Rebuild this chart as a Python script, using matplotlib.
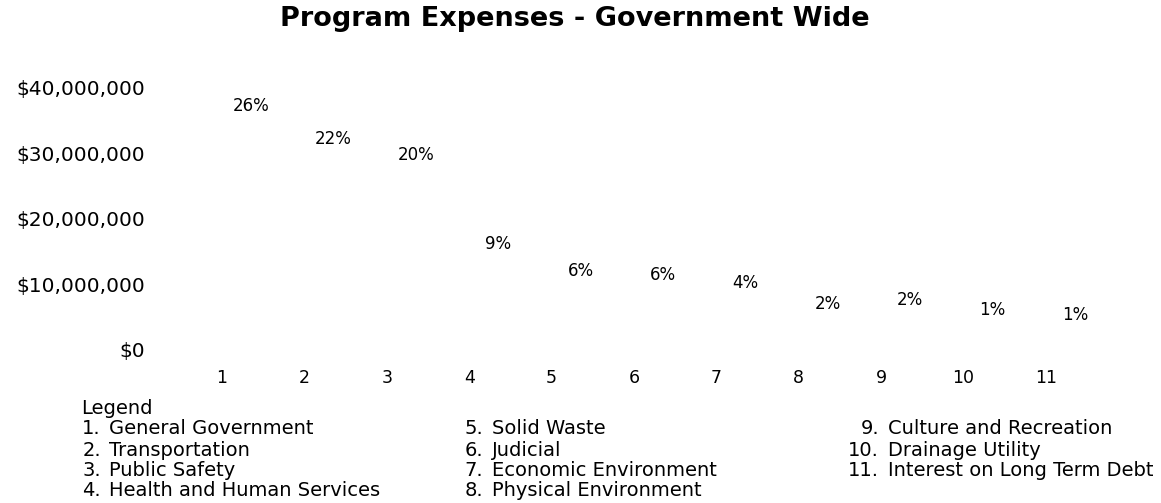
import numpy as np
import matplotlib.pyplot as plt
from matplotlib.ticker import FuncFormatter

plt.rcParams['font.family'] = ['DejaVu Sans']

# program expenses by function
programs = ['General Government', 'Transportation', 'Public Safety',
            'Health and Human Services', 'Solid Waste', 'Judicial',
            'Economic Environment', 'Physical Environment',
            'Culture and Recreation', 'Drainage Utility',
            'Interest on Long Term Debt']
expenses = [33.1e6, 28.1e6, 25.6e6, 12.1e6, 7.9e6, 7.3e6,
            6.1e6, 2.9e6, 3.5e6, 2.0e6, 1.2e6]
pct_labels = ['26%', '22%', '20%', '9%', '6%', '6%', '4%', '2%', '2%', '1%', '1%']
yticks = [0, 10e6, 20e6, 30e6, 40e6]

x = np.arange(1, len(programs) + 1)

fig = plt.figure(figsize=(11.61, 5.03), dpi=100)
ax = fig.add_axes([0.1557, 0.3042, 0.7807, 0.5209])

# columns are white in the original, only the labels show
bars = ax.bar(x, expenses, width=0.6, color='white')
for xi, v, lab in zip(x, expenses, pct_labels):
    ax.annotate(lab, (xi, v), xytext=(21, 13), textcoords='offset points',
                ha='center', va='bottom', fontsize=12)

ax.set_xlim(0.5, 11.5)
ax.set_ylim(0, 40e6)
ax.set_xticks(x)
ax.set_yticks(yticks)
ax.yaxis.set_major_formatter(FuncFormatter(lambda v, p: '${:,.0f}'.format(v)))
ax.tick_params(length=0, labelsize=14.5)
ax.tick_params(axis='y', pad=26)
ax.tick_params(axis='x', labelsize=12.5, pad=14)
for s in ax.spines.values():
    s.set_visible(False)

fig.text(575 / 1161, 0.963, 'Program Expenses - Government Wide', ha='center',
         va='center', fontsize=19.5, fontweight='bold')

# legend block
fs = 14
fig.text(81 / 1161, 1 - 408 / 503, 'Legend', va='center', fontsize=fs)
cols = [(101, 109), (483, 492), (879, 888)]
row_y = [429, 450, 470, 491]
for i, name in enumerate(programs):
    c = 0 if i < 4 else (1 if i < 8 else 2)
    r = i % 4 if i < 8 else i - 8
    nx, tx = cols[c]
    y = 1 - row_y[r] / 503
    fig.text(nx / 1161, y, '%d.' % (i + 1), ha='right', va='center', fontsize=fs)
    fig.text(tx / 1161, y, name, ha='left', va='center', fontsize=fs)

fig.savefig('out.png', dpi=100)
